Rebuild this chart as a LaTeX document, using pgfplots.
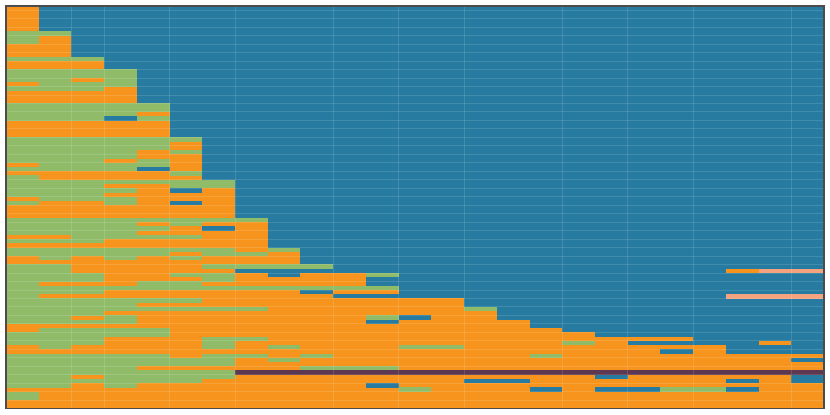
\documentclass[border=0pt]{standalone}
\usepackage{pgfplots}
\usepackage{pgfplotstable}
\pgfplotsset{compat=1.18}
\definecolor{cBlue}{RGB}{39,123,160}
\definecolor{cOrange}{RGB}{247,148,30}
\definecolor{cGreen}{RGB}{144,188,106}
\definecolor{cPurple}{RGB}{94,56,80}
\definecolor{cSalmon}{RGB}{245,162,126}

% x = first column, y = row centre, w = number of columns
\pgfplotstableread{
x y w
0 0.5 1
0 1.5 1
0 2.5 1
0 3.5 1
0 4.5 1
0 5.5 1
0 6.5 2
0 7.5 2
0 8.5 2
0 9.5 2
0 10.5 2
0 11.5 2
0 12.5 3
0 13.5 3
0 14.5 3
0 15.5 4
0 16.5 4
0 17.5 4
0 18.5 4
0 19.5 4
0 20.5 4
0 21.5 4
0 22.5 4
0 23.5 5
0 24.5 5
0 25.5 5
0 26.5 5
0 27.5 5
0 28.5 5
0 29.5 5
0 30.5 5
0 31.5 6
0 32.5 6
0 33.5 6
0 34.5 6
0 35.5 6
0 36.5 6
0 37.5 6
0 38.5 6
0 39.5 6
0 40.5 6
0 41.5 7
0 42.5 7
0 43.5 7
0 44.5 7
0 45.5 7
0 46.5 7
0 47.5 7
0 48.5 7
0 49.5 7
0 50.5 8
0 51.5 8
0 52.5 8
0 53.5 8
0 54.5 8
0 55.5 8
0 56.5 8
0 57.5 9
0 58.5 9
0 59.5 9
0 60.5 9
0 61.5 10
0 62.5 7
22 62.5 1
0 63.5 8
9 63.5 3
0 64.5 11
0 65.5 11
0 66.5 12
0 67.5 12
0 68.5 10
0 69.5 14
0 70.5 14
0 71.5 15
0 72.5 15
0 73.5 15
0 74.5 16
0 75.5 16
0 76.5 17
0 77.5 18
0 78.5 21
0 79.5 19
23 79.5 1
0 80.5 22
0 81.5 22
0 82.5 25
0 83.5 25
0 84.5 25
0 85.5 25
0 86.5 25
0 87.5 25
0 88.5 25
0 89.5 25
0 90.5 25
0 91.5 25
0 92.5 25
0 93.5 25
0 94.5 25
}\tabOrange

\pgfplotstableread{
x y w
0 6.5 2
0 7.5 1
0 8.5 1
0 12.5 3
0 15.5 4
0 16.5 4
0 17.5 2
3 17.5 1
1 18.5 3
0 19.5 3
0 23.5 5
0 24.5 5
0 25.5 4
0 26.5 3
4 26.5 1
0 31.5 6
0 32.5 5
0 33.5 5
0 34.5 4
5 34.5 1
0 35.5 4
0 36.5 3
4 36.5 1
1 37.5 4
0 38.5 4
5 39.5 1
0 40.5 1
0 41.5 7
0 42.5 3
5 42.5 2
0 43.5 4
0 44.5 3
1 45.5 3
0 46.5 1
3 46.5 1
0 50.5 8
0 51.5 4
5 51.5 1
0 52.5 5
0 53.5 4
2 54.5 4
0 55.5 3
0 57.5 7
8 57.5 1
0 58.5 5
6 58.5 2
1 59.5 1
3 59.5 1
5 59.5 1
0 61.5 2
6 61.5 4
0 62.5 2
0 63.5 3
5 63.5 2
11 63.5 1
0 64.5 3
6 64.5 1
0 65.5 1
4 65.5 2
0 66.5 12
0 67.5 3
0 68.5 1
0 69.5 6
0 70.5 4
0 71.5 8
14 71.5 1
0 72.5 3
0 73.5 2
3 73.5 1
11 73.5 1
0 74.5 4
1 76.5 4
0 77.5 5
0 78.5 3
6 78.5 2
0 79.5 3
6 79.5 1
17 79.5 1
1 80.5 1
6 80.5 1
8 80.5 1
12 80.5 2
0 82.5 5
6 82.5 2
9 82.5 1
16 82.5 1
0 83.5 7
8 83.5 1
0 84.5 7
0 85.5 4
9 85.5 3
0 86.5 7
0 87.5 2
3 87.5 4
0 88.5 6
0 89.5 2
3 89.5 1
12 90.5 1
20 90.5 2
0 91.5 1
0 92.5 1
}\tabGreen

\pgfplotstableread{
x y w
3 26.5 1
4 38.5 1
5 43.5 1
5 46.5 1
6 52.5 1
9 67.5 1
12 73.5 1
11 74.5 1
20 81.5 1
24 83.5 1
18 87.5 1
24 87.5 1
14 88.5 2
22 88.5 1
24 88.5 1
11 89.5 1
16 90.5 1
18 90.5 2
22 90.5 1
}\tabBlue

\pgfplotstableread{
x y w
7 86.5 18
}\tabPurple

\pgfplotstableread{
x y w
23 62.5 2
22 68.5 3
}\tabSalmon

\begin{document}
\begin{tikzpicture}
\useasboundingbox (-3pt,-3.15pt) rectangle (412pt,204.35pt);
\begin{axis}[
  scale only axis, width=409pt, height=201.35pt,
  xmin=0, xmax=25, ymin=0, ymax=95, y dir=reverse,
  axis background/.style={fill=cBlue},
  xtick={2,3,5,7,10,12,14,17,19,21,24},
  ytick={1,3,...,93},
  xticklabels={}, yticklabels={},
  major tick length=0pt,
  grid=major,
  grid style={draw=white, draw opacity=0.12, line width=0.5pt},
  axis on top,
  axis line style={draw=black!70, line width=0.8pt},
  error bars/x dir=plus,
  error bars/x explicit,
  error bars/error mark=none,
]
\addplot[draw=none, mark=none, error bars/error bar style={line width=2.2pt, draw=cOrange}] table[x=x, y=y, x error=w] {\tabOrange};
\addplot[draw=none, mark=none, error bars/error bar style={line width=2.2pt, draw=cGreen}] table[x=x, y=y, x error=w] {\tabGreen};
\addplot[draw=none, mark=none, error bars/error bar style={line width=2.2pt, draw=cBlue}] table[x=x, y=y, x error=w] {\tabBlue};
\addplot[draw=none, mark=none, error bars/error bar style={line width=2.2pt, draw=cPurple}] table[x=x, y=y, x error=w] {\tabPurple};
\addplot[draw=none, mark=none, error bars/error bar style={line width=2.2pt, draw=cSalmon}] table[x=x, y=y, x error=w] {\tabSalmon};
\end{axis}
\end{tikzpicture}
\end{document}
